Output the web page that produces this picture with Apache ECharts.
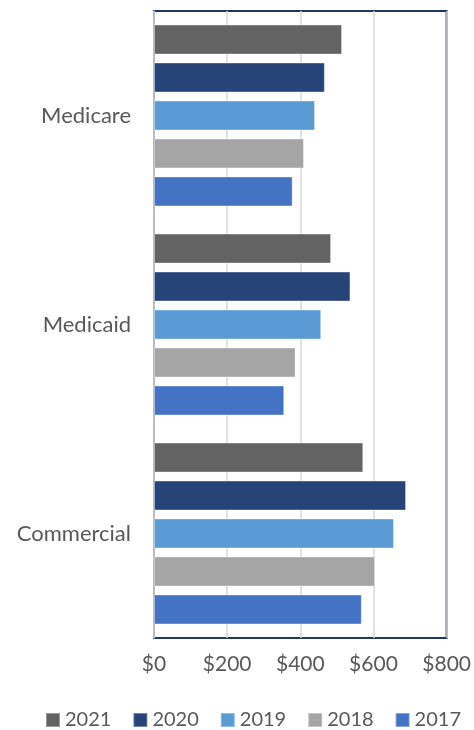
<!DOCTYPE html>
<html>
<head>
<meta charset="utf-8">
<script src="https://cdn.jsdelivr.net/npm/echarts@6/dist/echarts.min.js"></script>
<style>
  html, body { margin: 0; padding: 0; background: #fff; }
  #chart { width: 474px; height: 730px; }
</style>
</head>
<body>
<div id="chart"></div>
<script>
// categories bottom -> top
var categories = ["Commercial", "Medicaid", "Medicare"];
// years, top bar -> bottom bar inside each group
var years = ["2021", "2020", "2019", "2018", "2017"];
// values per year, same order as categories
var v2017 = [568, 356, 379];
var v2018 = [604, 387, 410];
var v2019 = [656, 457, 440];
var v2020 = [689, 537, 467];
var v2021 = [572, 484, 514];
var xTicks = [0, 200, 400, 600, 800];

var colors = {
  "2021": "#636363",
  "2020": "#264478",
  "2019": "#5b9bd5",
  "2018": "#a5a5a5",
  "2017": "#4472c4"
};
var values = { "2017": v2017, "2018": v2018, "2019": v2019, "2020": v2020, "2021": v2021 };

var chart = echarts.init(document.getElementById("chart"));

var seriesData = [];
for (var i = 0; i < years.length; i++) {
  var y = years[i];
  seriesData.push({
    name: y,
    type: "bar",
    data: values[y],
    barGap: "27%",
    barCategoryGap: "13%",
    itemStyle: {
      color: colors[y],
      borderColor: "rgba(255,255,255,0.35)",
      borderWidth: 1
    }
  });
}

var option = {
  animation: false,
  textStyle: { fontFamily: "Lato" },
  grid: {
    left: 154,
    right: 27,
    top: 11,
    bottom: 92,
    show: true,
    borderColor: "#1f3864",
    borderWidth: 2,
    containLabel: false
  },
  legend: {
    data: years,
    left: 45,
    top: 710,
    width: 429,
    padding: 0,
    itemWidth: 14,
    itemHeight: 14,
    itemGap: 21,
    icon: "rect",
    textStyle: { fontSize: 20, color: "#595959", fontFamily: "Lato" }
  },
  xAxis: {
    type: "value",
    min: xTicks[0],
    max: xTicks[xTicks.length - 1],
    interval: 200,
    axisLine: { show: false },
    axisTick: { show: false },
    splitLine: { show: true, lineStyle: { color: "#d9d9d9", width: 1.5 } },
    axisLabel: {
      margin: 16,
      fontSize: 21,
      color: "#595959",
      formatter: function (v) { return "$" + v; }
    }
  },
  yAxis: {
    type: "category",
    data: categories,
    axisLine: { show: true, lineStyle: { color: "#bfbfbf", width: 1.5 } },
    axisTick: { show: false },
    axisLabel: { margin: 23, fontSize: 22, color: "#595959" }
  },
  series: seriesData
};

chart.setOption(option);
window.addEventListener("resize", function () {
  chart.resize();
});
</script>
</body>
</html>
